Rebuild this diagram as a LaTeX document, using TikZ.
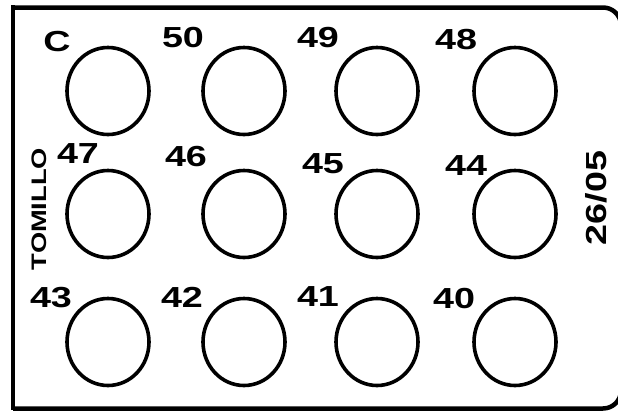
\documentclass[tikz,border=0pt]{standalone}
\usepackage{fontspec}
\setmainfont{Liberation Sans}
\newfontfamily\ancha{Liberation Sans}[FakeStretch=1.3]
\usetikzlibrary{positioning,shapes.geometric}

\begin{document}
\begin{tikzpicture}[x=1pt,y=-1pt,
  pozo/.style={draw,ellipse,line width=3.6pt,inner sep=0,minimum width=82pt,minimum height=87pt},
  etiq/.style={inner sep=0,font=\ancha\bfseries\fontsize{29}{29}\selectfont}]
\useasboundingbox (0,0) rectangle (618,410);
\draw[line width=4.5pt,rounded corners=18pt] (13,7.5)--(621,7.5)--(621,408.5)--(13,408.5);
\draw[line width=4.5pt] (13,5.25)--(13,410);
\foreach \y [count=\f] in {91,214,342}{\foreach \x [count=\c] in {108,244,377,515}{\node[pozo] (p\f\c) at (\x,\y) {};}}
\foreach \t/\x/\y [count=\i] in {C/57/42,50/183/38,49/318/38,48/456/40,47/78/154,46/186/157,45/323/164,44/466/166,43/51/298,42/182/297,41/318/297,40/454/299}{\node[etiq] (e\i) at (\x,\y) {\t};}
\node[etiq,rotate=90,font=\ancha\bfseries\fontsize{21}{21}\selectfont] (nombre) at (39.5,209) {TOMILLO};
\node[etiq,rotate=90] (fecha) at (596,198) {26/05};
\end{tikzpicture}
\end{document}
